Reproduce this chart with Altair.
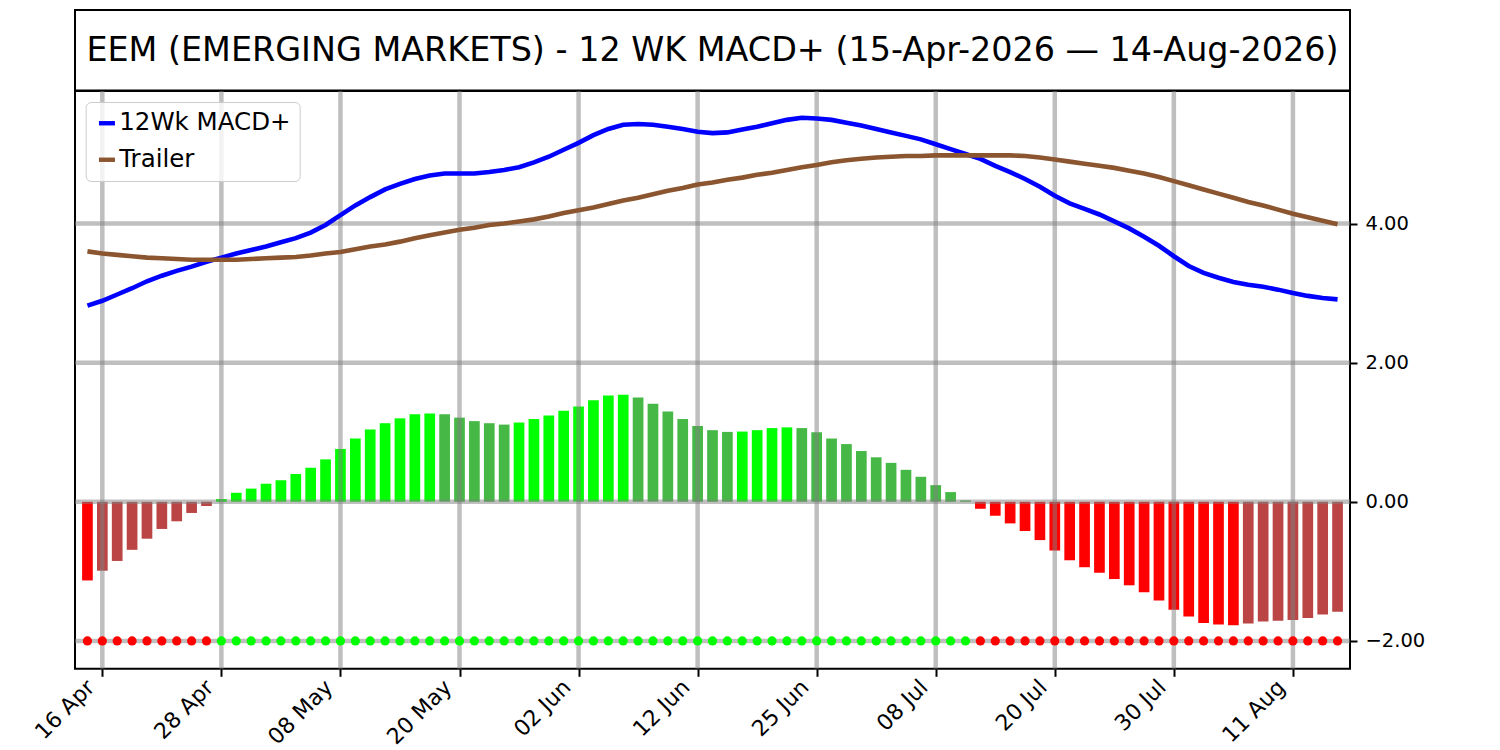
import altair as alt
import pandas as pd

# ---------------- data ----------------
trading_days = pd.bdate_range("2026-04-15", "2026-08-14")
holidays = pd.to_datetime(["2026-05-25", "2026-06-19", "2026-07-03"])
trading_days = trading_days[~trading_days.isin(holidays)]
date_labels = [d.strftime("%d %b") for d in trading_days]

macd = [
    2.82, 2.89, 2.98, 3.07, 3.17, 3.25, 3.32, 3.38, 3.45, 3.51,
    3.57, 3.62, 3.67, 3.73, 3.79, 3.87, 3.98, 4.12, 4.26, 4.38,
    4.49, 4.57, 4.64, 4.69, 4.72, 4.72, 4.72, 4.74, 4.77, 4.81,
    4.88, 4.96, 5.06, 5.16, 5.27, 5.36, 5.42, 5.43, 5.42, 5.39,
    5.36, 5.32, 5.30, 5.31, 5.35, 5.39, 5.44, 5.49, 5.52, 5.51,
    5.49, 5.45, 5.41, 5.36, 5.31, 5.26, 5.21, 5.14, 5.07, 5.00,
    4.93, 4.83, 4.74, 4.64, 4.53, 4.40, 4.29, 4.21, 4.13, 4.03,
    3.93, 3.81, 3.68, 3.53, 3.39, 3.29, 3.22, 3.16, 3.12, 3.09,
    3.05, 3.00, 2.96, 2.93, 2.91,
]
trailer = [
    3.60, 3.57, 3.55, 3.53, 3.51, 3.50, 3.49, 3.48, 3.48, 3.48,
    3.48, 3.49, 3.50, 3.51, 3.52, 3.54, 3.57, 3.59, 3.63, 3.67,
    3.70, 3.74, 3.79, 3.83, 3.87, 3.91, 3.94, 3.98, 4.00, 4.03,
    4.06, 4.10, 4.15, 4.19, 4.23, 4.28, 4.33, 4.37, 4.42, 4.47,
    4.51, 4.56, 4.59, 4.63, 4.66, 4.70, 4.73, 4.77, 4.81, 4.84,
    4.88, 4.91, 4.93, 4.95, 4.96, 4.97, 4.97, 4.98, 4.98, 4.98,
    4.98, 4.98, 4.98, 4.97, 4.95, 4.92, 4.89, 4.86, 4.83, 4.80,
    4.76, 4.72, 4.67, 4.61, 4.55, 4.49, 4.43, 4.37, 4.31, 4.26,
    4.20, 4.14, 4.09, 4.04, 3.99,
]
hist = [
    -1.13, -0.99, -0.85, -0.69, -0.53, -0.39, -0.28, -0.16, -0.06, 0.04,
    0.13, 0.19, 0.26, 0.31, 0.40, 0.49, 0.61, 0.76, 0.91, 1.04,
    1.13, 1.20, 1.26, 1.27, 1.26, 1.21, 1.16, 1.13, 1.11, 1.14,
    1.19, 1.24, 1.31, 1.37, 1.46, 1.53, 1.54, 1.50, 1.41, 1.30,
    1.19, 1.09, 1.03, 1.005, 1.01, 1.03, 1.06, 1.07, 1.06, 1.00,
    0.91, 0.83, 0.73, 0.64, 0.56, 0.46, 0.36, 0.24, 0.14, 0.02,
    -0.10, -0.20, -0.31, -0.42, -0.55, -0.70, -0.84, -0.94, -1.02, -1.11,
    -1.20, -1.30, -1.42, -1.55, -1.65, -1.74, -1.765, -1.775, -1.75, -1.72,
    -1.71, -1.70, -1.67, -1.62, -1.58,
]

tick_idx = [1, 9, 17, 25, 33, 41, 49, 57, 65, 73, 81]
y_ticks = [-2, 0, 2, 4]
series_names = ["12Wk MACD+", "Trailer"]
series_colors = ["#0000ff", "#8b5530"]

title_text = "EEM (EMERGING MARKETS) - 12 WK MACD+ (15-Apr-2026 \u2014 14-Aug-2026)"

# ---------------- frames ----------------
LIME, DKGREEN, RED, DKRED = "#00ff00", "#45b845", "#ff0000", "#bb4545"
bar_colors, dot_colors = [], []
for i, h in enumerate(hist):
    prev = hist[i - 1] if i > 0 else None
    if h >= 0:
        bar_colors.append(LIME if (prev is None or h > prev) else DKGREEN)
        dot_colors.append(LIME)
    else:
        bar_colors.append(DKRED if (prev is not None and h > prev) else RED)
        dot_colors.append(RED)

n = len(hist)
df = pd.DataFrame({
    "idx": list(range(n)),
    "date": date_labels,
    "hist": hist,
    "bar_color": bar_colors,
    "dot_color": dot_colors,
})
lines_df = pd.DataFrame({
    "idx": list(range(n)) * 2,
    "value": macd + trailer,
    "series": [series_names[0]] * n + [series_names[1]] * n,
})
vgrid_df = pd.DataFrame({"idx": tick_idx})
hgrid_df = pd.DataFrame({"v": y_ticks})

label_expr = ""
for t in tick_idx:
    label_expr += f"datum.value == {t} ? '{date_labels[t]}' : "
label_expr += "''"

FONT = "DejaVu Sans"
W, H = 1275, 577.8
TOP_H = 80.5

xscale = alt.Scale(domain=[-0.5, n - 0.5], nice=False, zero=False)
yscale = alt.Scale(domain=[-2.40, 5.905], nice=False, zero=False)

xaxis = alt.Axis(
    values=tick_idx, labelExpr=label_expr, labelAngle=-45, labelAlign="right",
    labelBaseline="middle", labelFontSize=22, labelFont=FONT, labelColor="black",
    tickSize=7.5, tickWidth=2, tickColor="black", domain=False, grid=False,
    labelPadding=7, labelOffset=-12, labelFlush=False, labelOverlap=False,
    labelBound=False, title=None,
)
yaxis = alt.Axis(
    orient="right", values=y_ticks, format=".2f", labelFontSize=19.5, labelFont=FONT,
    labelColor="black", tickSize=7, tickWidth=2, tickColor="black", domain=False,
    grid=False, labelPadding=8, title=None,
)

bars = alt.Chart(df).mark_bar(size=10.7).encode(
    x=alt.X("idx:Q", scale=xscale, axis=xaxis),
    y=alt.Y("hist:Q", scale=yscale, axis=yaxis),
    y2=alt.datum(0),
    color=alt.Color("bar_color:N", scale=None),
)

vgrid = alt.Chart(vgrid_df).mark_rule(color="gray", opacity=0.5, strokeWidth=4.5).encode(
    x=alt.X("idx:Q", scale=xscale),
)
hgrid = alt.Chart(hgrid_df).mark_rule(color="gray", opacity=0.5, strokeWidth=4.5).encode(
    y=alt.Y("v:Q", scale=yscale),
)

dots = alt.Chart(df).mark_circle(size=85, opacity=1).encode(
    x=alt.X("idx:Q", scale=xscale),
    y=alt.datum(-2),
    color=alt.Color("dot_color:N", scale=None),
)

lines = alt.Chart(lines_df).mark_line(strokeWidth=4.6).encode(
    x=alt.X("idx:Q", scale=xscale),
    y=alt.Y("value:Q", scale=yscale),
    color=alt.Color(
        "series:N",
        scale=alt.Scale(domain=series_names, range=series_colors),
        legend=alt.Legend(
            title=None, orient="none", legendX=10.7, legendY=TOP_H + 11.5,
            symbolType="stroke", symbolStrokeWidth=4.4, symbolSize=256,
            labelFontSize=24.5, labelFont=FONT, labelColor="black", labelLimit=500,
            labelOffset=0, padding=9, rowPadding=11.5, strokeColor="#cccccc",
            fillColor="rgba(255,255,255,0.8)", cornerRadius=5,
        ),
    ),
    order=alt.Order("idx:Q"),
)

main = alt.layer(bars, vgrid, hgrid, dots, lines).properties(width=W, height=H)

top = alt.Chart(pd.DataFrame({"t": [title_text]})).mark_text(
    fontSize=33.4, font=FONT, color="black", align="center", baseline="middle"
).encode(
    x=alt.value(W / 2), y=alt.value(TOP_H / 2 + 1), text="t:N"
).properties(width=W, height=TOP_H)

chart = alt.vconcat(top, main, spacing=0, bounds="flush").properties(
    padding={"left": 21, "top": 1, "right": 5, "bottom": 0}
).configure(
    font=FONT
).configure_view(
    stroke="black", strokeWidth=2
)

chart.save("out.html", embed_options={"renderer": "svg", "actions": False})
